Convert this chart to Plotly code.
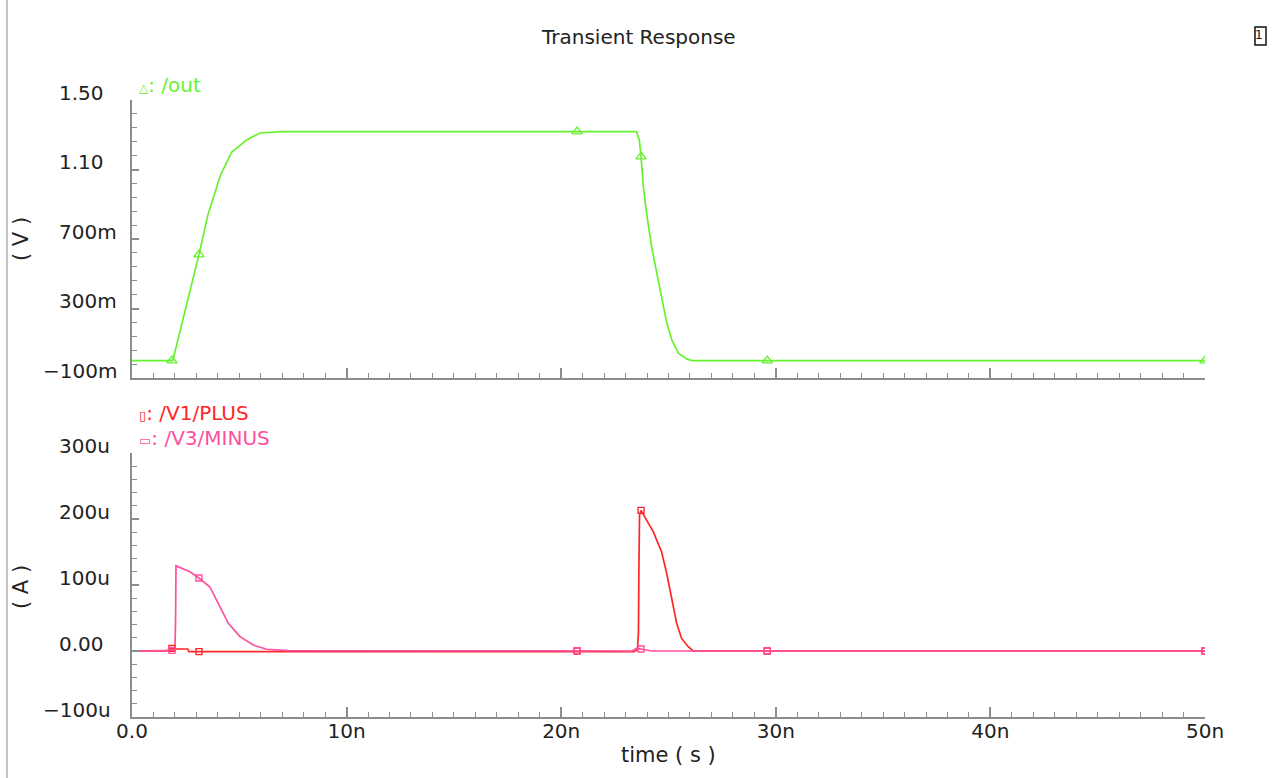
import plotly.graph_objects as go

W, H = 1276, 778

# ---- data (time in ns, voltage in V, current in uA) ----
t_out = [0, 1.9, 3.12, 3.35, 3.54, 4.13, 4.65, 5.34, 5.96, 7.0,
         23.51, 23.64, 23.72, 23.83, 23.98, 24.21, 24.45, 24.68, 24.92,
         25.15, 25.46, 25.85, 26.08, 50]
v_out = [0, 0, 0.61, 0.74, 0.84, 1.07, 1.20, 1.27, 1.31, 1.318,
         1.318, 1.27, 1.174, 1.0, 0.848, 0.656, 0.503, 0.351, 0.216,
         0.12, 0.043, 0.01, 0.0, 0.0]

t_plus = [0, 1.6, 1.86, 2.1, 2.6, 2.65, 3.12, 7.3, 7.4, 23.2, 23.4, 23.55,
          23.6, 23.62, 23.65, 23.72, 24.06, 24.3, 24.45, 24.68, 24.92, 25.15,
          25.38, 25.61, 25.92, 26.15, 50]
i_plus = [0, 0, 4, 3, 3, -1, -1, -1, 0, 0, -1, 2,
          27, 123, 206, 213, 193, 180, 168, 150, 117, 77,
          42, 19, 6.5, 0, 0]

t_minus = [0, 1.7, 1.86, 2.0, 2.03, 2.05, 2.70, 3.12, 3.63, 4.10, 4.49,
           5.03, 5.65, 6.28, 7.3, 23.3, 23.5, 23.72, 24.0, 24.2, 50]
i_minus = [0, 0, 1, 2, 45, 129, 120, 110.6, 97, 67, 42,
           21.7, 9, 2.6, 0.5, 0, 4, 3, 1, 0, 0]

# marker positions along each waveform
t_mark = [1.86, 3.12, 20.74, 23.72, 29.6, 50]
v_mark = [0, 0.61, 1.318, 1.174, 0, 0]
plus_mark = [4, -1, 0, 213, 0, 0]
minus_mark = [1, 110.6, 0, 3, 0, 0]

# tick labels
x_ticks = [0, 10, 20, 30, 40, 50]
x_labels = ["0.0", "10n", "20n", "30n", "40n", "50n"]
v_ticks = [-0.1, 0.3, 0.7, 1.1, 1.5]
v_labels = ["\u2212100m", "300m", "700m", "1.10", "1.50"]
i_ticks = [-100, 0, 100, 200, 300]
i_labels = ["\u2212100u", "0.00", "100u", "200u", "300u"]

GREEN = "#66f22e"
RED = "#ff2626"
PINK = "#ff4f9f"
AXIS = "#8c8c8c"
TEXT = "#222222"
FONT = "DejaVu Sans"


def px(x):
    return x / W


def py(y):
    return 1 - y / H


fig = go.Figure()

fig.add_trace(go.Scatter(x=t_out, y=v_out, mode="lines",
                         line=dict(color=GREEN, width=1.7),
                         xaxis="x", yaxis="y"))
fig.add_trace(go.Scatter(x=t_mark, y=v_mark, mode="markers",
                         marker=dict(symbol="triangle-up-open", size=9,
                                     color=GREEN, line=dict(width=1.4)),
                         xaxis="x", yaxis="y"))

fig.add_trace(go.Scatter(x=t_plus, y=i_plus, mode="lines",
                         line=dict(color=RED, width=1.7),
                         xaxis="x2", yaxis="y2"))
fig.add_trace(go.Scatter(x=t_minus, y=i_minus, mode="lines",
                         line=dict(color=PINK, width=1.7),
                         xaxis="x2", yaxis="y2"))
fig.add_trace(go.Scatter(x=t_mark, y=plus_mark, mode="markers",
                         marker=dict(symbol="square-open", size=6,
                                     color=RED, line=dict(width=1.4)),
                         xaxis="x2", yaxis="y2"))
fig.add_trace(go.Scatter(x=t_mark, y=minus_mark, mode="markers",
                         marker=dict(symbol="square-open", size=6,
                                     color=PINK, line=dict(width=1.4)),
                         xaxis="x2", yaxis="y2"))

xdom = [px(132), px(1205)]
common_x = dict(range=[0, 50], domain=xdom, showgrid=False, zeroline=False,
                automargin=False,
                showline=True, linecolor=AXIS, linewidth=2,
                ticks="inside", ticklen=10, tickwidth=1.5, tickcolor=AXIS,
                tickmode="array", tickvals=x_ticks,
                minor=dict(dtick=1, tick0=0, ticks="inside", ticklen=5,
                           tickwidth=1.2, tickcolor=AXIS))
common_y = dict(showgrid=False, zeroline=False, showline=True,
                automargin=False,
                linecolor=AXIS, linewidth=2, ticks="inside", ticklen=7,
                tickwidth=1.5, tickcolor=AXIS, showticklabels=False,
                tickmode="array")

fig.update_layout(
    width=W, height=H, autosize=False,
    margin=dict(l=0, r=0, t=0, b=0, pad=0),
    paper_bgcolor="white", plot_bgcolor="white",
    showlegend=False,
    font=dict(family=FONT, size=20, color=TEXT),
    xaxis=dict(common_x, anchor="y", showticklabels=False),
    yaxis=dict(common_y, range=[-0.1, 1.5], domain=[py(378), py(100)],
               anchor="x", tickvals=v_ticks,
               minor=dict(dtick=0.08, tick0=-0.1, ticks="inside", ticklen=5,
                          tickwidth=1.2, tickcolor=AXIS)),
    xaxis2=dict(common_x, anchor="y2", showticklabels=True,
                ticktext=x_labels, ticklabelstandoff=-5,
                tickfont=dict(family=FONT, size=20, color=TEXT)),
    yaxis2=dict(common_y, range=[-100, 300], domain=[py(717), py(453)],
                anchor="x2", tickvals=i_ticks,
                minor=dict(dtick=20, tick0=-100, ticks="inside", ticklen=5,
                           tickwidth=1.2, tickcolor=AXIS)),
)

ann = []
# y tick labels, left aligned with the minus sign hanging out front
for val, lab in zip(v_ticks, v_labels):
    ann.append(dict(xref="paper", yref="y", x=px(41 if lab.startswith("\u2212") else 57),
                    y=val, xanchor="left", yanchor="middle", yshift=7,
                    text=lab, showarrow=False,
                    font=dict(family=FONT, size=20, color=TEXT)))
for val, lab in zip(i_ticks, i_labels):
    ann.append(dict(xref="paper", yref="y2", x=px(41 if lab.startswith("\u2212") else 57),
                    y=val, xanchor="left", yanchor="middle", yshift=7,
                    text=lab, showarrow=False,
                    font=dict(family=FONT, size=20, color=TEXT)))

# title and axis titles
ann.append(dict(xref="paper", yref="paper", x=px(638), y=py(37),
                text="Transient Response", showarrow=False,
                xanchor="center", yanchor="middle",
                font=dict(family=FONT, size=20, color=TEXT)))
ann.append(dict(xref="paper", yref="paper", x=px(668), y=py(755),
                text="time ( s )", showarrow=False,
                xanchor="center", yanchor="middle",
                font=dict(family=FONT, size=21, color=TEXT)))
ann.append(dict(xref="paper", yref="paper", x=px(21), y=py(239),
                text="( V )", showarrow=False, textangle=-90,
                xanchor="center", yanchor="middle",
                font=dict(family=FONT, size=21, color=TEXT)))
ann.append(dict(xref="paper", yref="paper", x=px(21), y=py(587),
                text="( A )", showarrow=False, textangle=-90,
                xanchor="center", yanchor="middle",
                font=dict(family=FONT, size=21, color=TEXT)))

# trace legends
ann.append(dict(xref="paper", yref="paper", x=px(137), y=py(85),
                text="<span style='font-size:12px'>\u25b3</span>: /out",
                showarrow=False, xanchor="left", yanchor="middle",
                font=dict(family=FONT, size=20, color=GREEN)))
ann.append(dict(xref="paper", yref="paper", x=px(137), y=py(413),
                text="<span style='font-size:13px'>\u25af</span>: /V1/PLUS",
                showarrow=False, xanchor="left", yanchor="middle",
                font=dict(family=FONT, size=20, color=RED)))
ann.append(dict(xref="paper", yref="paper", x=px(137), y=py(438),
                text="<span style='font-size:13px'>\u25ad</span>: /V3/MINUS",
                showarrow=False, xanchor="left", yanchor="middle",
                font=dict(family=FONT, size=20, color=PINK)))

# small window icon in the top-right corner
ann.append(dict(xref="paper", yref="paper", x=px(1259), y=py(35),
                text="1", showarrow=False, xanchor="center", yanchor="middle",
                font=dict(family=FONT, size=12, color="#111111")))

fig.update_layout(annotations=ann)

fig.add_shape(type="line", xref="paper", yref="paper",
              x0=px(7), x1=px(7), y0=0, y1=1,
              line=dict(color="#b0b0b0", width=1.5))
fig.add_shape(type="rect", xref="paper", yref="paper",
              x0=px(1255), x1=px(1266), y0=py(45), y1=py(27),
              line=dict(color="#111111", width=1.5))

fig.write_html("out.html")
